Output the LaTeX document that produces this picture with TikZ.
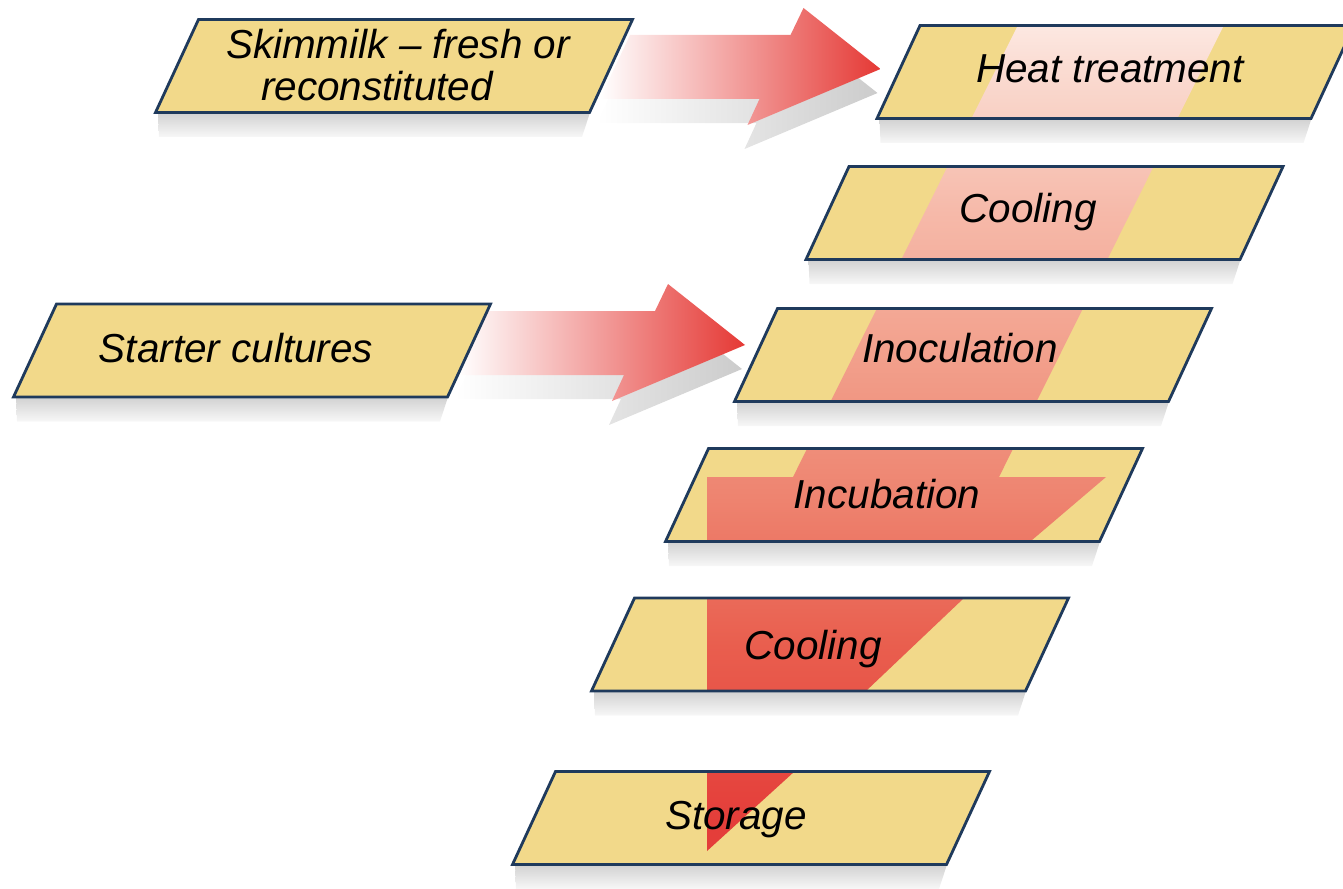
\documentclass[tikz,border=0pt]{standalone}
\usepackage{fontspec}
\setmainfont{Liberation Sans}
\usepackage{tikz}
\usetikzlibrary{calc,backgrounds}
\definecolor{SlabYellow}{HTML}{F2D98A}
\definecolor{SlabEdge}{HTML}{1F3A5C}
\definecolor{FeedSalmon}{HTML}{F4A395}
\definecolor{FeedRed}{HTML}{E53935}
\definecolor{FlowA}{HTML}{FDEAE4}
\definecolor{FlowB}{HTML}{FADBD1}
\definecolor{FlowC}{HTML}{F6B9A9}
\definecolor{FlowD}{HTML}{F2A08C}
\definecolor{FlowE}{HTML}{EE8470}
\definecolor{FlowF}{HTML}{E95E4E}
\definecolor{FlowG}{HTML}{E43E3A}
% flow colours, bottom (red) to top (pale)
\pgfdeclareverticalshading{flowdown}{100bp}{color(0bp)=(FlowG); color(26.8bp)=(FlowG); color(37.3bp)=(FlowF); color(46.3bp)=(FlowE); color(54.8bp)=(FlowD); color(63.3bp)=(FlowC); color(71.8bp)=(FlowB); color(75bp)=(FlowA); color(100bp)=(FlowA)}
\tikzset{
    % Text on a slab
    slabtext/.style={
        font=\itshape\fontsize{11.5}{12}\selectfont,
        inner sep=0pt,
        align=center,
        anchor=base
    },
    % Slab body
    slabbody/.style={
        fill=SlabYellow
    },
    % Slab outline
    slabedge/.style={
        draw=SlabEdge,
        line width=0.8pt
    },
    % Soft shadow under a slab
    slabshadow/.style={
        top color=black!18,
        bottom color=black!3
    },
    % Feed arrow
    feedarrow/.style={
        left color=white,
        middle color=FeedSalmon,
        right color=FeedRed
    },
    % Shadow of a feed arrow
    feedshadow/.style={
        left color=white,
        right color=black!20,
        transform canvas={xshift=-0.03cm, yshift=-0.24cm}
    },
    % Process flow through the slabs
    flowband/.style={
        shading=flowdown
    }
}
% slanted slab round a centre
\newcommand{\slab}[1]{($(#1)+(-195.5,-46.5)$) -- ($(#1)+(238.5,-46.5)$) -- ($(#1)+(195.5,46.5)$) -- ($(#1)+(-238.5,46.5)$) -- cycle}
% shadow strip under a slab
\newcommand{\slabshade}[1]{($(#1)+(-236,46.5)$) -- ($(#1)+(196,46.5)$) -- ($(#1)+(188,71)$) -- ($(#1)+(-235,71)$) -- cycle}
% feed arrow from a slab centre to a tip
\newcommand{\feed}[2]{($(#1 |- #2)+(236,-34)$) -- ($(#2)+(-90,-34)$) -- ($(#2)+(-77,-61)$) -- (#2) -- ($(#2)+(-133,56)$) -- ($(#2)+(-121,30)$) -- ($(#1 |- #2)+(206,30)$) -- cycle}
\begin{document}
\begin{tikzpicture}[x=0.01cm, y=-0.01cm]
    \useasboundingbox (0,0) rectangle (1343,888);
    % slab centres
    \coordinate (skim-c) at (394,66);
    \coordinate (heat-c) at (1115.5,72);
    \coordinate (cool1-c) at (1044.5,213);
    \coordinate (starter-c) at (252,350.5);
    \coordinate (inoc-c) at (973,355);
    \coordinate (incub-c) at (904,495);
    \coordinate (cool2-c) at (830,644.5);
    \coordinate (store-c) at (751,818);
    % feed arrow tips
    \coordinate (heat-in) at ($(heat-c)+(-235,-3)$);
    \coordinate (inoc-in) at ($(inoc-c)+(-228,-10)$);

    \node[slabtext, anchor=center] (skim) at (398,65) {Skimmilk – fresh or\\reconstituted\hspace*{0.42cm}};
    \node[slabtext] (heat) at (1110,82.5) {Heat treatment};
    \node[slabtext] (cool1) at (1028,222.5) {Cooling};
    \node[slabtext] (starter) at (236,362.5) {Starter cultures};
    \node[slabtext] (inoc) at (960,362.5) {Inoculation};
    \node[slabtext] (incub) at (887,508.5) {Incubation};
    \node[slabtext] (cool2) at (813,659.5) {Cooling};
    \node[slabtext] (store) at (736,829.5) {Storage};

    \begin{scope}[on background layer]
        \foreach \s in {skim,heat,cool1,starter,inoc,incub,cool2,store}
            \shade[slabshadow] \slabshade{\s-c};
        \shade[feedshadow] \feed{skim-c}{heat-in};
        \shade[feedshadow] \feed{starter-c}{inoc-in};
        \shade[feedarrow] \feed{skim-c}{heat-in};
        \shade[feedarrow] \feed{starter-c}{inoc-in};
        \foreach \s in {skim,heat,cool1,starter,inoc,incub,cool2,store}
            \fill[slabbody] \slab{\s-c};
        % big flow arrow, seen only on the slabs
        \begin{scope}
            \clip \slab{heat-c} \slab{cool1-c} \slab{inoc-c} \slab{incub-c} \slab{cool2-c} \slab{store-c};
            \shade[flowband] (1021.5,18) -- (1227.5,18) -- (999,477) -- (1106,477) -- (964,598) -- (866,691) -- (795,771) -- (707,851) -- (707,477) -- (793,477) -- cycle;
        \end{scope}
        \foreach \s in {skim,heat,cool1,starter,inoc,incub,cool2,store}
            \draw[slabedge] \slab{\s-c};
    \end{scope}
\end{tikzpicture}
\end{document}
